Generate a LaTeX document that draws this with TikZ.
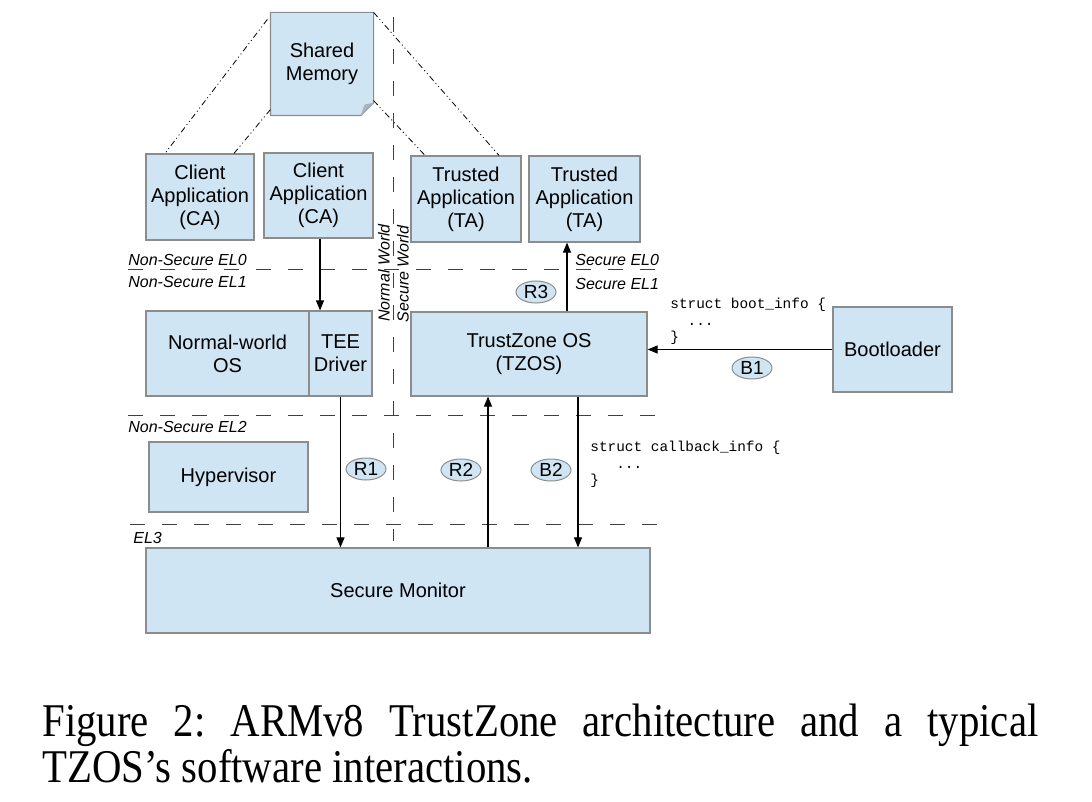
\documentclass[tikz,border=0pt]{standalone}
\usepackage{fontspec}
\setmainfont{Liberation Sans}
\newfontfamily\capfont{Liberation Serif}
\newfontfamily\codefont{Liberation Mono}
\usepackage{graphicx}
\usetikzlibrary{positioning}
\usetikzlibrary{arrows.meta}
\usetikzlibrary{shapes.geometric}
\usetikzlibrary{backgrounds}
\definecolor{tzfill}{RGB}{207,229,243}
\definecolor{tzline}{RGB}{140,140,140}
\definecolor{tzfold}{RGB}{165,180,195}
\tikzset{tzbox/.style={rectangle,draw=tzline,fill=tzfill,line width=0.6pt,
inner sep=1pt,align=center,font=\fontsize{10}{11.5}\selectfont}}
\tikzset{tztag/.style={ellipse,draw=tzline,fill=tzfill,line width=0.5pt,
inner sep=0pt,minimum width=20pt,minimum height=11pt,font=\fontsize{9.5}{10}\selectfont}}
\tikzset{tzlvl/.style={anchor=base west,inner sep=0pt,font=\fontsize{8}{9}\selectfont\itshape}}
\tikzset{tzcode/.style={anchor=north west,inner sep=0pt,align=left,
font=\fontsize{7.2}{8.2}\selectfont\codefont}}
\tikzset{tzdash/.style={draw=black!75,line width=0.5pt,dash pattern=on 7.5pt off 8.5pt}}
\tikzset{tzshare/.style={line width=0.4pt,
dash pattern=on 3pt off 1.5pt on 0.5pt off 1.5pt on 0.5pt off 1.5pt}}
\tikzset{tzarrow/.style={line width=0.55pt,-{Triangle[length=5pt,width=4pt]}}}

\begin{document}
\begin{tikzpicture}[x=0.5pt,y=-0.5pt]
        \useasboundingbox (0,0) rectangle (1092,802);

        % exception levels and the two worlds
        \draw[tzdash] (128,270) -- (660,270);
        \draw[tzdash] (128,415) -- (660,415);
        \draw[tzdash] (130,524) -- (663,524);
        \draw[tzdash] (393,17) -- (393,541);

        \node[tzlvl] (lvlNsZero) at (128,265) {Non-Secure EL0};
        \node[tzlvl] (lvlNsOne) at (128,287) {Non-Secure EL1};
        \node[tzlvl] (lvlNsTwo) at (128,432) {Non-Secure EL2};
        \node[tzlvl] (lvlThree) at (133,543) {EL3};
        \node[tzlvl] (lvlSZero) at (575,266) {Secure EL0};
        \node[tzlvl] (lvlSOne) at (575,290) {Secure EL1};
        \node[tzlvl, anchor=center, rotate=90] (lvlNormal) at (384,273) {Normal World};
        \node[tzlvl, anchor=center, rotate=90] (lvlSecure) at (403,274) {Secure World};

        % boxes
        \node[tzbox, draw=none, fill=none, minimum width=51pt, minimum height=49pt] (boxShm) at (322,64) {Shared\\Memory};
        \begin{scope}[on background layer]
        \draw[draw=tzline, fill=tzfill, line width=0.6pt] ([yshift=1pt]boxShm.north west) -- ([yshift=1pt]boxShm.north east)
            -- ([yshift=5.5pt]boxShm.south east) -- ([xshift=-6.5pt,yshift=-1pt]boxShm.south east) -- ([yshift=-1pt]boxShm.south west) -- cycle;
        \fill[tzfold] ([yshift=5.5pt]boxShm.south east) -- ([xshift=-6.5pt,yshift=-1pt]boxShm.south east)
            -- ([xshift=-4.5pt,yshift=4.5pt]boxShm.south east) -- cycle;
        \end{scope}

        \node[tzbox, minimum width=54pt, minimum height=43pt] (boxCAa) at (200,197) {Client\\Application\\(CA)};
        \node[tzbox, minimum width=54.5pt, minimum height=42.5pt] (boxCAb) at (318.5,195.5) {Client\\Application\\(CA)};
        \node[tzbox, minimum width=55pt, minimum height=43pt] (boxTAa) at (466,199) {Trusted\\Application\\(TA)};
        \node[tzbox, minimum width=55.5pt, minimum height=43pt] (boxTAb) at (584.5,199) {Trusted\\Application\\(TA)};

        \node[tzbox, minimum width=81.5pt, minimum height=42.5pt] (boxNwos) at (227.5,353.5) {Normal-world\\OS};
        \node[tzbox, minimum width=31.5pt, minimum height=42.5pt] (boxTee) at (340.5,353.5) {TEE\\Driver};
        \node[tzbox, minimum width=118pt, minimum height=42pt] (boxTzos) at (529,354) {TrustZone OS\\(TZOS)};
        \node[tzbox, minimum width=59.5pt, minimum height=42.5pt] (boxBoot) at (892.5,349.5) {Bootloader};
        \node[tzbox, minimum width=79.5pt, minimum height=35pt] (boxHyp) at (228.5,477) {Hypervisor};
        \node[tzbox, minimum width=252pt, minimum height=42.5pt] (boxMon) at (398,590.5) {Secure Monitor};

        % shared memory mappings
        \coordinate (shmCAl) at ([xshift=-17.5pt]boxCAa.north);
        \coordinate (shmCAr) at ([xshift=17pt]boxCAa.north);
        \coordinate (shmTAl) at ([xshift=-20.5pt]boxTAa.north);
        \coordinate (shmTAr) at ([xshift=16.5pt]boxTAa.north);
        \draw[tzshare] ([xshift=-1.5pt,yshift=-2.5pt]boxShm.north west) -- (shmCAl);
        \draw[tzshare] ([yshift=2pt]boxShm.south west) -- (shmCAr);
        \draw[tzshare] ([yshift=1pt]boxShm.north east) -- (shmTAr);
        \draw[tzshare] ([yshift=6.5pt]boxShm.south east) -- (shmTAl);

        % calls
        \coordinate (caOut) at ([xshift=0.75pt]boxCAb.south);
        \draw[tzarrow] (caOut) -- (caOut |- boxTee.north);
        \draw[tzarrow] (boxTee.south) -- (boxTee.south |- boxMon.north);
        \coordinate (rTwoTop) at ([xshift=-20.5pt]boxTzos.south);
        \draw[tzarrow] (rTwoTop |- boxMon.north) -- (rTwoTop);
        \coordinate (bTwoTop) at ([xshift=24.5pt]boxTzos.south);
        \draw[tzarrow] (bTwoTop) -- (bTwoTop |- boxMon.north);
        \coordinate (rThreeBot) at ([xshift=19pt]boxTzos.north);
        \draw[tzarrow] (rThreeBot) -- (rThreeBot |- boxTAb.south);
        \draw[tzarrow] (boxBoot.west) -- (boxBoot.west -| boxTzos.east);

        \node[tztag] (tagRone) at (366,469) {R1};
        \node[tztag] (tagRtwo) at (461,470) {R2};
        \node[tztag] (tagBtwo) at (551,470) {B2};
        \node[tztag] (tagRthree) at (536,292) {R3};
        \node[tztag] (tagBone) at (752,368) {B1};

        \node[tzcode] (codeBoot) at (670,298) {struct boot\_info \{\\\hphantom{xx}...\\\}};
        \node[tzcode] (codeCallback) at (590,441) {struct callback\_info \{\\\hphantom{xxx}...\\\}};

        % caption
        \node[anchor=north west, inner sep=0pt] (caption) at (42,704) {\scalebox{1}[1.15]{\parbox{498pt}{\tolerance=10000\frenchspacing\capfont\fontsize{20.4}{18.7}\selectfont
        Figure 2: ARMv8 TrustZone architecture and a typical TZOS’s software interactions.}}};

    \end{tikzpicture}
\end{document}
